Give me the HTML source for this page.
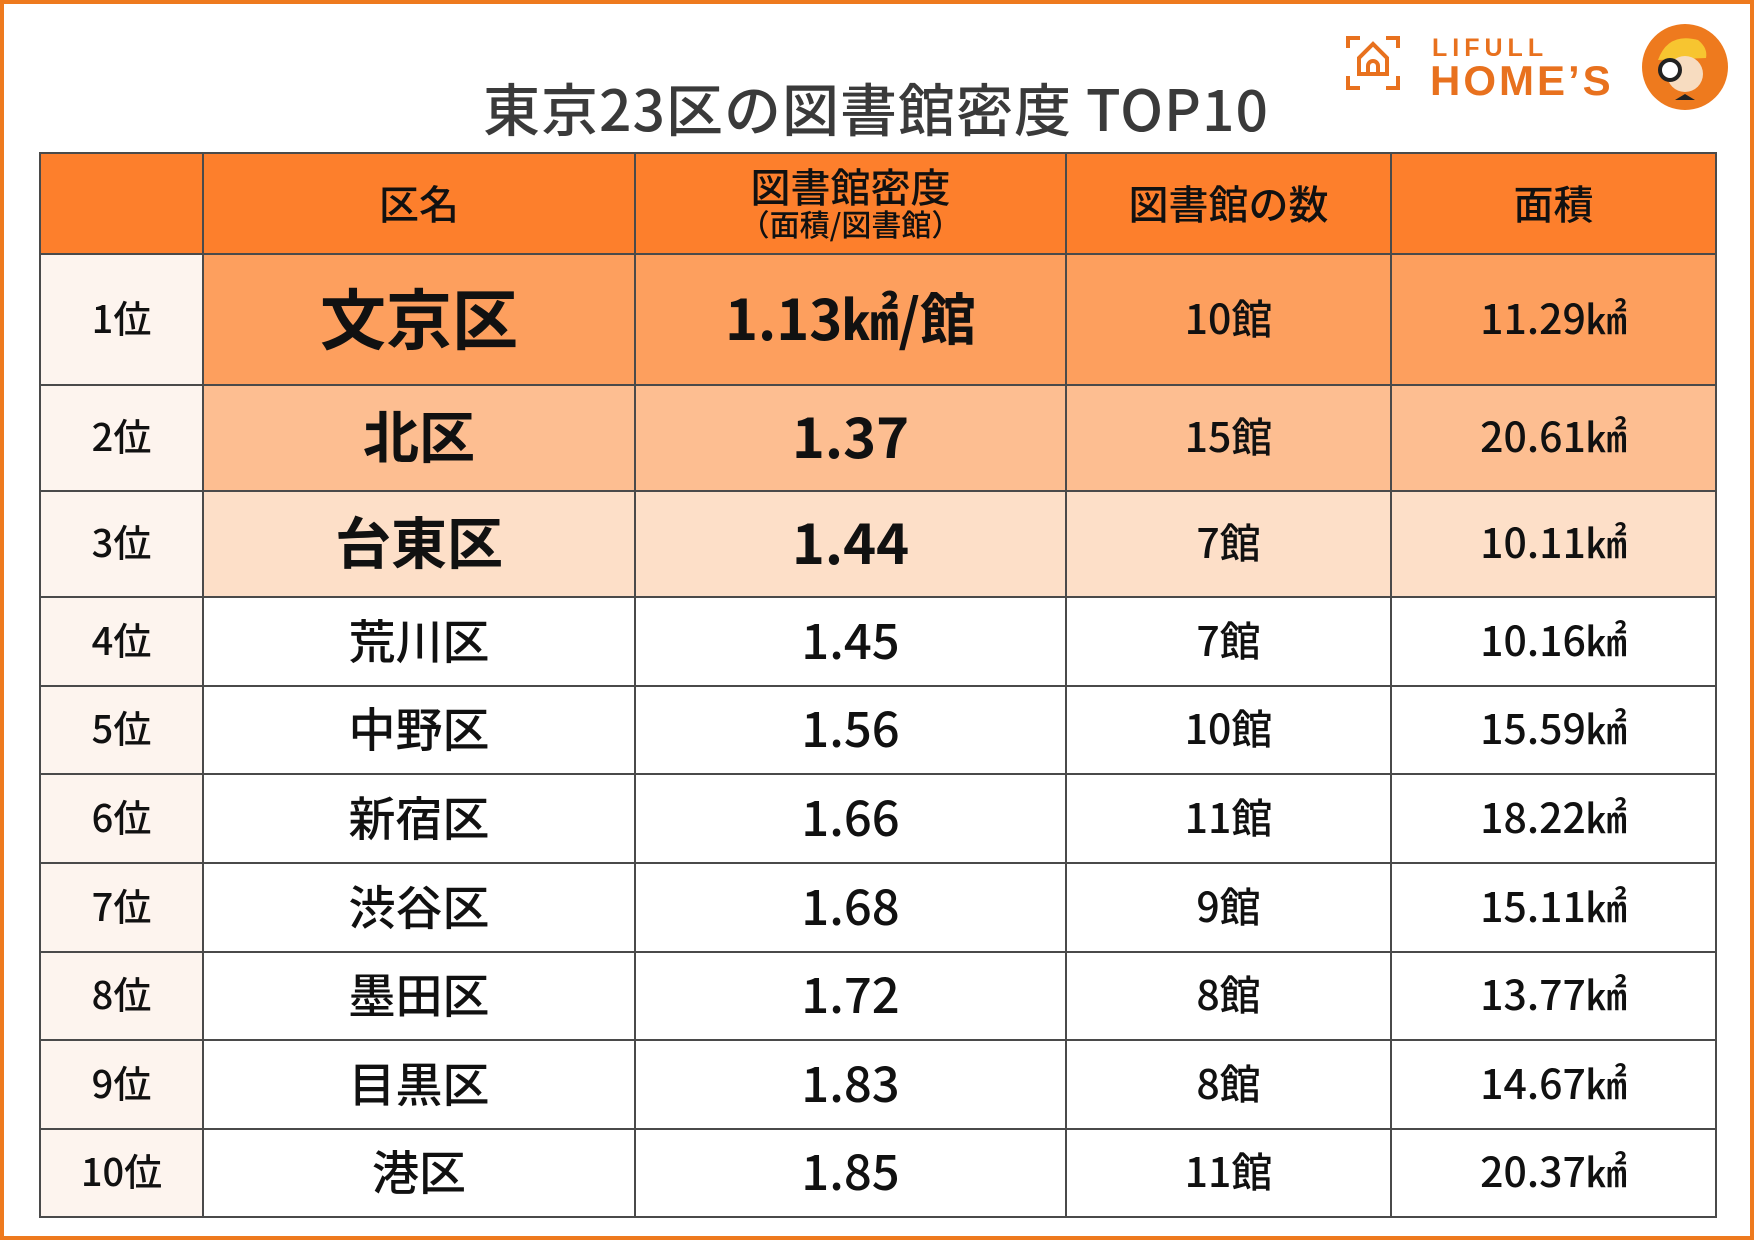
<!DOCTYPE html>
<html><head><meta charset="utf-8"><style>
*{margin:0;padding:0;box-sizing:border-box}
body{width:1754px;height:1240px;background:#fff;position:relative;overflow:hidden;font-family:"Liberation Sans","Noto Sans CJK JP",sans-serif}
.frame{position:absolute;left:0;top:0;width:1754px;height:1240px;border:4px solid #EE7A1E}
.title{position:absolute;left:376px;top:72px;width:1000px;text-align:center;font-size:57px;font-weight:500;color:#3a3a3a;line-height:70px;font-family:"Noto Sans CJK JP",sans-serif;letter-spacing:1px}
table{position:absolute;left:39px;top:152px;border-collapse:collapse;table-layout:fixed;width:1676px}
td{border:2px solid #4a4a4a;text-align:center;vertical-align:middle;font-family:"Noto Sans CJK JP",sans-serif;font-weight:500;color:#111;padding:0 0 6px 0;line-height:1.1}
tr.h td{background:#FD7F2C;font-size:40px;padding-bottom:4px}
td.r{background:#FDF4EE;font-size:38px}
tr.a td{background:#FD9F5E} tr.b td{background:#FDBE91} tr.c td{background:#FDDFC8}
tr.a td.r,tr.b td.r,tr.c td.r{background:#FDF4EE}
.n{font-size:41px}
.bd{font-weight:700}
.sub{font-size:30px;display:block;margin-top:0px}
</style></head><body>
<div class="frame"></div>
<div class="title">東京23区の図書館密度 TOP10</div>
<svg style="position:absolute;left:1340px;top:22px" width="400" height="100">
<g fill="none" stroke="#E8711E" stroke-width="4">
<path d="M8 26 V16 H20"/><path d="M46 16 H58 V26"/><path d="M8 54 V66 H20"/><path d="M46 66 H58 V54"/>
<path d="M19 52 V36 L33 22 L47 36 V52 Z"/><path d="M28 52 V44 a5 5 0 0 1 10 0 V52"/>
</g>
<text x="92" y="34" font-family="Liberation Sans,sans-serif" font-weight="700" font-size="25" fill="#E8711E" letter-spacing="5">LIFULL</text>
<text x="90" y="73" font-family="Liberation Sans,sans-serif" font-weight="700" font-size="42" fill="#E8711E" letter-spacing="3">HOME’S</text>
<circle cx="345" cy="45" r="43" fill="#EE7A1E"/>
<path d="M318 38 q10-28 40-20 q10 8 8 18 z" fill="#F7C530"/>
<circle cx="345" cy="52" r="18" fill="#F7DCC0"/>
<circle cx="330" cy="48" r="10" fill="#fff" stroke="#222" stroke-width="4"/>
<path d="M335 78 l10-6 l10 6 z" fill="#222"/>
</svg>
<table>
<colgroup><col style="width:163px"><col style="width:432px"><col style="width:431px"><col style="width:325px"><col style="width:325px"></colgroup>
<tr class="h" style="height:101px"><td></td><td>区名</td><td>図書館密度<span class="sub">（面積/図書館）</span></td><td>図書館の数</td><td>面積</td></tr>
<tr class="a" style="height:131px"><td class="r">1位</td><td class="bd" style="font-size:66px">文京区</td><td class="bd" style="font-size:56px">1.13㎢/館</td><td class="n">10館</td><td class="n">11.29㎢</td></tr>
<tr class="b" style="height:106px"><td class="r">2位</td><td class="bd" style="font-size:56px">北区</td><td class="bd" style="font-size:56px">1.37</td><td class="n">15館</td><td class="n">20.61㎢</td></tr>
<tr class="c" style="height:106px"><td class="r">3位</td><td class="bd" style="font-size:56px">台東区</td><td class="bd" style="font-size:56px">1.44</td><td class="n">7館</td><td class="n">10.11㎢</td></tr>
<tr style="height:89px"><td class="r">4位</td><td style="font-size:47px">荒川区</td><td style="font-size:49px">1.45</td><td class="n">7館</td><td class="n">10.16㎢</td></tr>
<tr style="height:88px"><td class="r">5位</td><td style="font-size:47px">中野区</td><td style="font-size:49px">1.56</td><td class="n">10館</td><td class="n">15.59㎢</td></tr>
<tr style="height:89px"><td class="r">6位</td><td style="font-size:47px">新宿区</td><td style="font-size:49px">1.66</td><td class="n">11館</td><td class="n">18.22㎢</td></tr>
<tr style="height:89px"><td class="r">7位</td><td style="font-size:47px">渋谷区</td><td style="font-size:49px">1.68</td><td class="n">9館</td><td class="n">15.11㎢</td></tr>
<tr style="height:88px"><td class="r">8位</td><td style="font-size:47px">墨田区</td><td style="font-size:49px">1.72</td><td class="n">8館</td><td class="n">13.77㎢</td></tr>
<tr style="height:89px"><td class="r">9位</td><td style="font-size:47px">目黒区</td><td style="font-size:49px">1.83</td><td class="n">8館</td><td class="n">14.67㎢</td></tr>
<tr style="height:88px"><td class="r">10位</td><td style="font-size:47px">港区</td><td style="font-size:49px">1.85</td><td class="n">11館</td><td class="n">20.37㎢</td></tr>
</table>
</body></html>
